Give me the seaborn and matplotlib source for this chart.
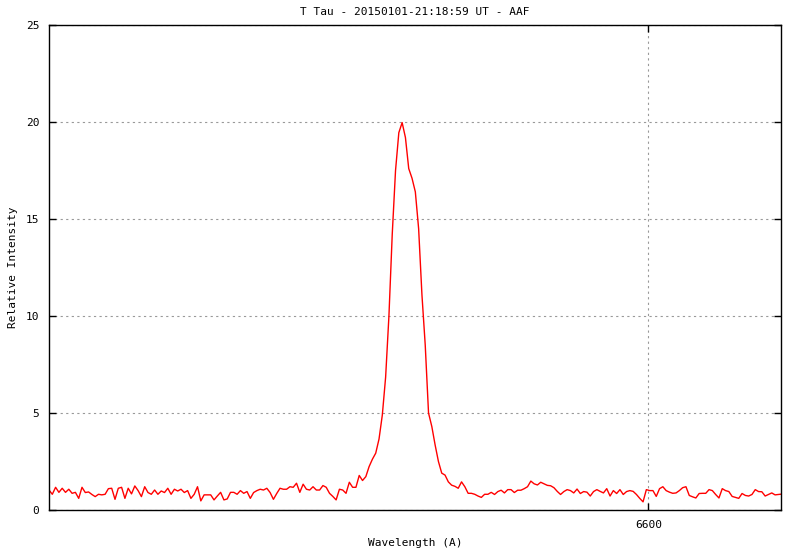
import numpy as np
import pandas as pd
import matplotlib
matplotlib.use("Agg")
import matplotlib.pyplot as plt
import seaborn as sns

# ---- data ----
wl_start = 6509.2
wl_step = 0.5
intensity = [
    1.03, 0.81, 1.17, 0.91, 1.12, 0.91, 1.07, 0.86, 0.91, 0.60,
    1.17, 0.90, 0.93, 0.80, 0.69, 0.81, 0.78, 0.81, 1.10, 1.12,
    0.55, 1.12, 1.17, 0.60, 1.12, 0.83, 1.24, 1.00, 0.69, 1.20,
    0.90, 0.81, 1.03, 0.81, 0.98, 0.90, 1.12, 0.81, 1.07, 0.98,
    1.07, 0.90, 1.00, 0.60, 0.81, 1.20, 0.47, 0.78, 0.78, 0.78,
    0.52, 0.72, 0.91, 0.52, 0.57, 0.91, 0.91, 0.81, 1.00, 0.86,
    0.95, 0.60, 0.90, 1.00, 1.07, 1.03, 1.12, 0.90, 0.55, 0.85,
    1.12, 1.07, 1.07, 1.20, 1.17, 1.38, 0.91, 1.33, 1.07, 1.03,
    1.20, 1.03, 1.03, 1.26, 1.17, 0.86, 0.70, 0.52, 1.07, 1.03,
    0.86, 1.43, 1.17, 1.17, 1.78, 1.52, 1.72, 2.24, 2.62, 2.93,
    3.66, 4.90, 6.85, 10.0, 14.2, 17.5, 19.45, 19.97, 19.2, 17.6,
    17.1, 16.4, 14.5, 11.1, 8.5, 5.0, 4.3, 3.35, 2.5, 1.9,
    1.8, 1.45, 1.28, 1.22, 1.12, 1.45, 1.20, 0.86, 0.86, 0.81,
    0.72, 0.65, 0.81, 0.81, 0.91, 0.80, 0.95, 1.02, 0.88, 1.05,
    1.05, 0.90, 1.02, 1.02, 1.10, 1.20, 1.49, 1.35, 1.29, 1.43,
    1.35, 1.27, 1.25, 1.15, 0.96, 0.80, 0.95, 1.05, 1.00, 0.88,
    1.08, 0.85, 0.95, 0.92, 0.72, 0.95, 1.05, 0.96, 0.88, 1.10,
    0.72, 1.00, 0.85, 1.05, 0.80, 0.95, 1.00, 0.96, 0.80, 0.60,
    0.42, 1.05, 1.00, 1.00, 0.70, 1.10, 1.20, 1.00, 0.92, 0.86,
    0.88, 1.00, 1.15, 1.20, 0.75, 0.68, 0.62, 0.85, 0.86, 0.86,
    1.05, 1.00, 0.80, 0.62, 1.10, 1.00, 0.95, 0.70, 0.65, 0.60,
    0.85, 0.75, 0.72, 0.80, 1.05, 0.95, 0.94, 0.72, 0.80, 0.88,
    0.78, 0.80, 0.82,
]
wavelength = wl_start + wl_step * np.arange(len(intensity))

x_range = (6509.2, 6620.1)
y_range = (0, 25)
x_ticks = [6600]
y_ticks = [0, 5, 10, 15, 20, 25]
title = "T Tau - 20150101-21:18:59 UT - AAF"
x_label = "Wavelength (A)"
y_label = "Relative Intensity"

df = pd.DataFrame({"wavelength": wavelength, "intensity": intensity})

# ---- plot ----
sns.set_style("white")
plt.rcParams["font.family"] = ["DejaVu Sans Mono"]
plt.rcParams["text.color"] = "black"
plt.rcParams["xtick.color"] = "black"
plt.rcParams["ytick.color"] = "black"

fig = plt.figure(figsize=(8, 5.5), dpi=100)
ax = fig.add_axes([49 / 800, 1 - 510 / 550, (781 - 49) / 800, (510 - 25) / 550])

sns.lineplot(data=df, x="wavelength", y="intensity", ax=ax,
             color="#ff0000", linewidth=1.0, estimator=None, sort=False)

ax.set_xlim(*x_range)
ax.set_ylim(*y_range)
ax.set_xticks(x_ticks)
ax.set_yticks(y_ticks)
ax.set_xticklabels([str(t) for t in x_ticks], fontsize=8, color="black")
ax.set_yticklabels([str(t) for t in y_ticks], fontsize=8, color="black")

ax.grid(True, color="#999999", linestyle=(0, (2, 3)), linewidth=0.8)
ax.set_axisbelow(True)

for s in ax.spines.values():
    s.set_visible(True)
    s.set_color("black")
    s.set_linewidth(1.0)

ax.tick_params(axis="both", direction="in", length=5, width=1, color="black",
               labelcolor="black",
               top=True, right=True, bottom=True, left=True, pad=7)

ax.set_xlabel("")
ax.set_ylabel("")
fig.text(415 / 800, 1 - 543 / 550, x_label, ha="center", va="center",
         fontsize=8, color="black")
fig.text(13 / 800, 1 - 267 / 550, y_label, ha="center", va="center",
         rotation=90, fontsize=8, color="black")
fig.text(415 / 800, 1 - 12 / 550, title, ha="center", va="center",
         fontsize=8, color="black")

fig.savefig("out.png", dpi=100)
